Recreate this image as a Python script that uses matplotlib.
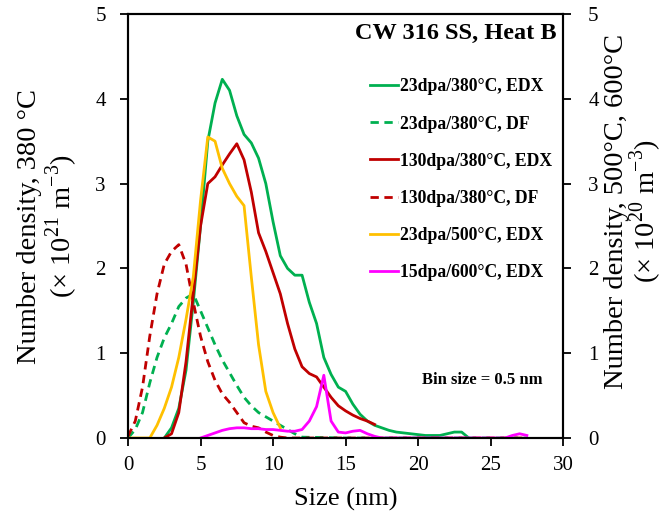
import numpy as np
import matplotlib
matplotlib.use('Agg')
import matplotlib.pyplot as plt

plt.rcParams['font.family'] = ['Liberation Serif', 'DejaVu Serif']
plt.rcParams['mathtext.fontset'] = 'custom'
plt.rcParams['mathtext.rm'] = 'Liberation Serif'

# size bins (nm)
x_g = [2.5, 3.0, 3.5, 4.0, 4.5, 5.0, 5.5, 6.0, 6.5, 7.0, 7.5, 8.0, 8.5, 9.0, 9.5, 10.0,
       10.5, 11.0, 11.5, 12.0, 12.5, 13.0, 13.5, 14.0, 14.5, 15.0, 15.5, 16.0, 16.5, 17.0,
       17.5, 18.0, 18.5, 19.0, 19.5, 20.0, 20.5, 21.0, 21.5, 22.0, 22.5, 23.0, 23.5]
y_g_edx = [0.0, 0.12, 0.35, 0.8, 1.6, 2.5, 3.5, 3.95, 4.23, 4.1, 3.8, 3.58, 3.48, 3.3, 3.0, 2.55,
           2.15, 2.0, 1.92, 1.92, 1.6, 1.35, 0.95, 0.75, 0.6, 0.55, 0.4, 0.28, 0.2, 0.15,
           0.12, 0.09, 0.07, 0.06, 0.05, 0.04, 0.03, 0.03, 0.03, 0.05, 0.07, 0.07, 0.0]

x_g_df = [0.0, 0.5, 1.0, 1.5, 2.0, 2.5, 3.0, 3.5, 4.0, 4.5, 5.0, 5.5, 6.0, 6.5, 7.0, 7.5,
          8.0, 8.5, 9.0, 9.5, 10.0, 10.5, 11.0, 11.5, 12.0, 15.0, 20.0, 25.0, 27.5]
y_g_df = [0.0, 0.1, 0.3, 0.65, 0.95, 1.18, 1.35, 1.55, 1.65, 1.7, 1.5, 1.3, 1.1, 0.92, 0.77, 0.62,
          0.48, 0.38, 0.3, 0.25, 0.2, 0.15, 0.1, 0.05, 0.01, 0.0, 0.0, 0.0, 0.0]

x_r = [2.5, 3.0, 3.5, 4.0, 4.5, 5.0, 5.5, 6.0, 6.5, 7.0, 7.5, 8.0, 8.5, 9.0, 9.5, 10.0,
       10.5, 11.0, 11.5, 12.0, 12.5, 13.0, 13.5, 14.0, 14.5, 15.0, 15.5, 16.0, 16.5, 17.0]
y_r_edx = [0.0, 0.05, 0.3, 0.9, 1.7, 2.5, 3.0, 3.08, 3.22, 3.35, 3.47, 3.28, 2.9, 2.42, 2.2, 1.95,
           1.7, 1.35, 1.05, 0.84, 0.76, 0.72, 0.6, 0.48, 0.38, 0.32, 0.27, 0.23, 0.2, 0.16]

x_r_df = [0.0, 0.5, 1.0, 1.5, 2.0, 2.5, 3.0, 3.5, 4.0, 4.5, 5.0, 5.5, 6.0, 6.5, 7.0, 7.5,
          8.0, 8.5, 9.0, 9.5, 10.0, 10.5, 11.0, 15.0, 20.0, 25.0, 27.5]
y_r_df = [0.02, 0.2, 0.6, 1.2, 1.7, 2.05, 2.2, 2.28, 2.05, 1.6, 1.2, 0.9, 0.68, 0.52, 0.42, 0.3,
          0.18, 0.14, 0.12, 0.07, 0.03, 0.01, 0.0, 0.0, 0.0, 0.0, 0.0]

x_y = [0.0, 0.5, 1.0, 1.5, 2.0, 2.5, 3.0, 3.5, 4.0, 4.5, 5.0, 5.5, 6.0, 6.5, 7.0, 7.5,
       8.0, 8.5, 9.0, 9.5, 10.0, 10.5]
y_y_edx = [0.0, 0.0, 0.0, 0.0, 0.15, 0.35, 0.6, 0.95, 1.4, 1.9, 2.8, 3.55, 3.5, 3.18, 3.0, 2.85,
           2.74, 1.9, 1.1, 0.55, 0.3, 0.12]

x_m = [5.0, 5.5, 6.0, 6.5, 7.0, 7.5, 8.0, 8.5, 9.0, 9.5, 10.0, 10.5, 11.0, 11.5, 12.0, 12.5,
       13.0, 13.5, 14.0, 14.5, 15.0, 15.5, 16.0, 16.5, 17.0, 17.5, 20.0, 26.0, 26.5, 27.0, 27.5]
y_m_edx = [0.0, 0.03, 0.06, 0.09, 0.11, 0.12, 0.12, 0.11, 0.11, 0.1, 0.1, 0.09, 0.08, 0.08, 0.1, 0.2,
           0.37, 0.74, 0.2, 0.07, 0.06, 0.08, 0.09, 0.05, 0.02, 0.0, 0.0, 0.0, 0.03, 0.05, 0.03]

green = '#00B050'
red = '#C00000'
orange = '#FFC000'
magenta = '#FF00FF'

fig = plt.figure(figsize=(6.64, 5.15), dpi=100)
ax = fig.add_axes([0.1928, 0.1495, 0.6553, 0.8233])
ax2 = ax.twinx()

l1, = ax.plot(x_g, y_g_edx, color=green, lw=2, label='23dpa/380°C, EDX')
l2, = ax.plot(x_g_df, y_g_df, color=green, lw=2, ls=(0, (3, 2)), label='23dpa/380°C, DF')
l3, = ax.plot(x_r, y_r_edx, color=red, lw=2, label='130dpa/380°C, EDX')
l4, = ax.plot(x_r_df, y_r_df, color=red, lw=2, ls=(0, (3, 2)), label='130dpa/380°C, DF')
l5, = ax2.plot(x_y, y_y_edx, color=orange, lw=2, label='23dpa/500°C, EDX')
l6, = ax2.plot(x_m, y_m_edx, color=magenta, lw=2, label='15dpa/600°C, EDX')

for a in (ax, ax2):
    a.set_xlim(0, 30)
    a.set_ylim(0, 5)
    for s in a.spines.values():
        s.set_linewidth(1.5)
    a.tick_params(direction='out', length=6, width=1.3, labelsize=15)

ax.tick_params(axis='x', pad=7)
ax.tick_params(axis='y', pad=10)
ax2.tick_params(axis='y', pad=12)

ax.set_xticks(range(0, 31, 5))
ax.set_yticks(range(0, 6))
ax2.set_yticks(range(0, 6))

ax.set_xlabel('Size (nm)', fontsize=19, labelpad=9)
ax.set_ylabel('Number density, 380 °C\n(× 10$^{21}$ m$^{-3}$)', fontsize=20.5, linespacing=1.05,
              labelpad=11)
ax2.set_ylabel('Number density, 500°C, 600°C\n(× 10$^{20}$ m$^{-3}$)', fontsize=20.5, linespacing=0.95,
               labelpad=4)
ax2.yaxis.label.set_y(0.535)

ax.text(0.985, 0.955, 'CW 316 SS, Heat B', transform=ax.transAxes, ha='right', va='center',
        fontsize=17.5, fontweight='bold')
ax.text(0.676, 0.137, 'Bin size = 0.5 nm', transform=ax.transAxes, ha='left', va='center',
        fontsize=12, fontweight='bold')

leg = ax2.legend(handles=[l1, l2, l3, l4, l5, l6], loc='upper left', bbox_to_anchor=(0.556, 0.848),
                 frameon=False, prop={'weight': 'bold', 'size': 12.7}, handlelength=1.6,
                 handletextpad=0.1, labelspacing=1.14, borderaxespad=0, borderpad=0)

fig.savefig('out.png', dpi=100)
